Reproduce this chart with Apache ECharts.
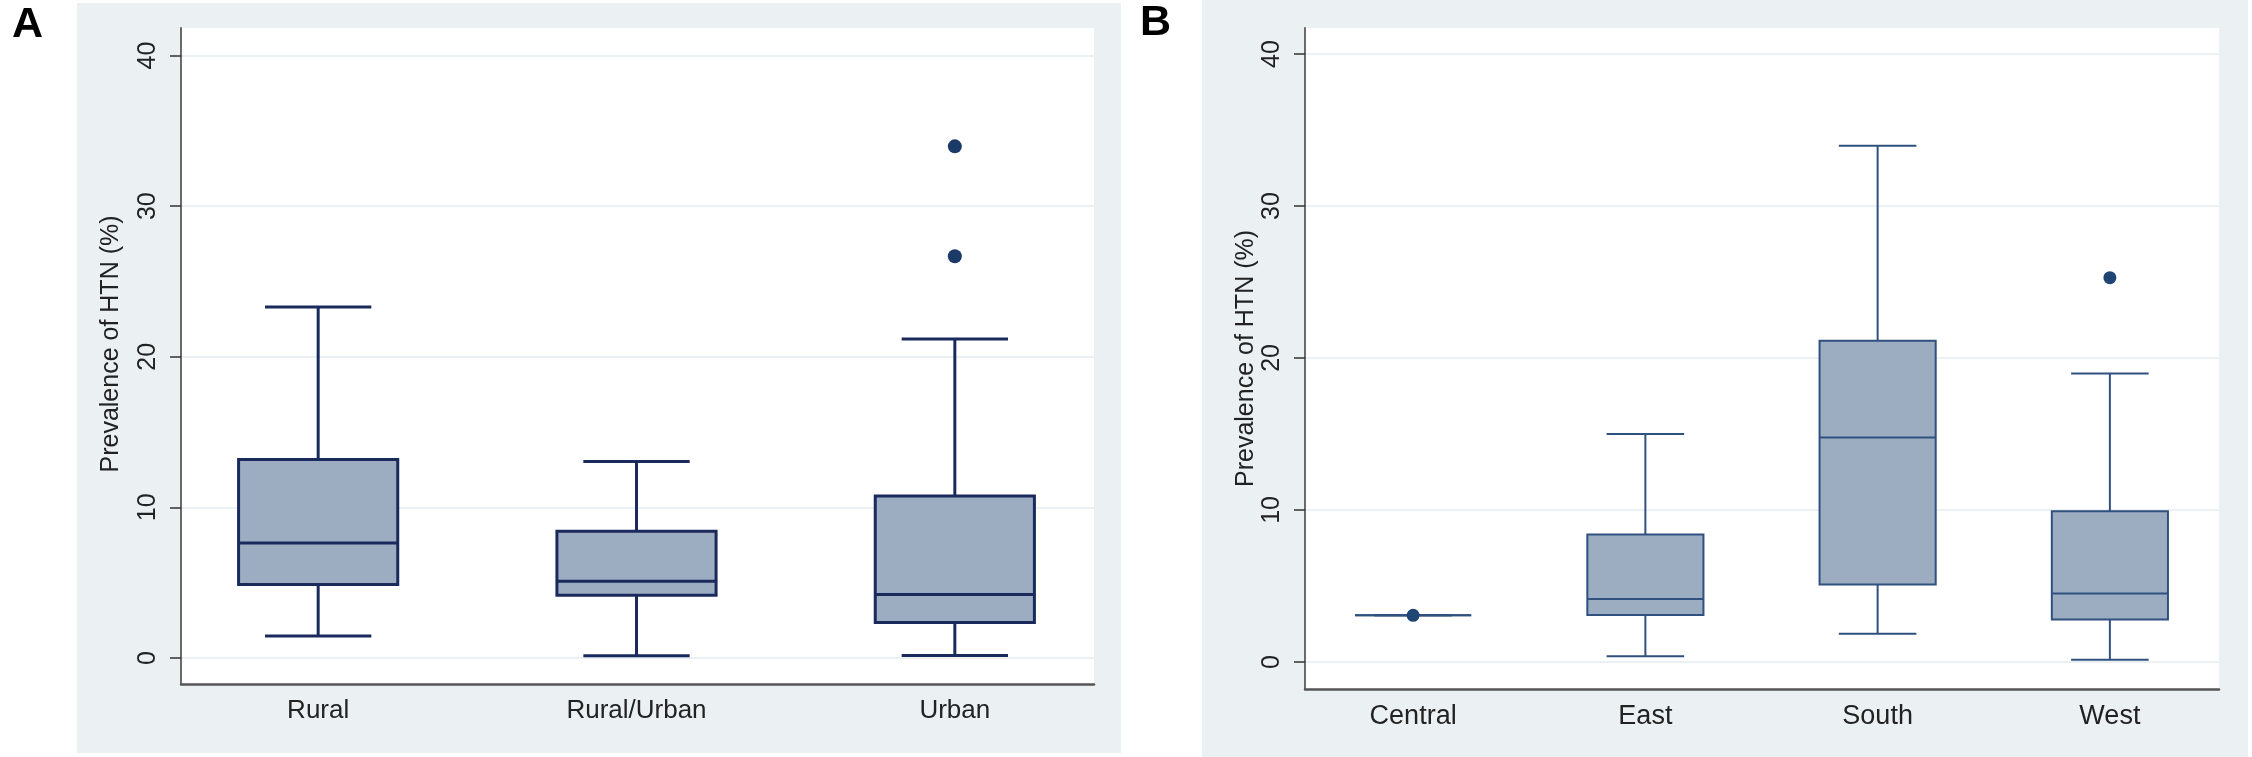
<!DOCTYPE html>
<html>
<head>
<meta charset="utf-8">
<title>Prevalence of HTN</title>
<script src="https://cdn.jsdelivr.net/npm/echarts@6/dist/echarts.min.js"></script>
<style>
  html, body { margin: 0; padding: 0; background: #fff; }
  #chart { width: 2252px; height: 757px; }
</style>
</head>
<body>
<div id="chart"></div>
<script>
// ---- data ----
// box rows are [lower whisker, Q1, median, Q3, upper whisker]
var residenceCats = ['Rural', 'Rural/Urban', 'Urban'];
var residenceBoxes = [
  [1.46, 4.87, 7.64, 13.17, 23.3],
  [0.15, 4.16, 5.09, 8.41, 13.05],
  [0.17, 2.35, 4.21, 10.75, 21.18]
];
var residenceOutliers = [['Urban', 26.67], ['Urban', 33.97]];

var regionCats = ['Central', 'East', 'South', 'West'];
var regionBoxes = [
  [3.07, 3.07, 3.07, 3.07, 3.07],
  [0.37, 3.09, 4.14, 8.38, 15.0],
  [1.86, 5.09, 14.76, 21.14, 33.97],
  [0.15, 2.8, 4.5, 9.92, 18.97]
];
var regionOutliers = [['Central', 3.07], ['West', 25.28]];

var yTicks = [0, 10, 20, 30, 40];
var yTitle = 'Prevalence of HTN (%)';

// axis ranges (Stata pads the 0-40 scale a little)
var rangeA = [-1.73, 41.83];
var rangeB = [-1.78, 41.71];

var FONT = '"Liberation Sans", Arial, sans-serif';

/** 箱线图绘制: 箱宽 = 半个类目宽, 须端 = 三分之一 */
function boxRenderer(lineColor, lineWidth) {
  return function(params, api) {
    var idx = api.value(0);
    var lo = api.coord([idx, api.value(1)]);
    var q1 = api.coord([idx, api.value(2)]);
    var med = api.coord([idx, api.value(3)]);
    var q3 = api.coord([idx, api.value(4)]);
    var hi = api.coord([idx, api.value(5)]);
    var band = api.size([1, 0])[0];
    var cx = med[0];
    var half = band * 0.25;
    var cap = band * 0.167;
    var ls = { stroke: lineColor, lineWidth: lineWidth, fill: null };
    return {
      type: 'group',
      children: [
        { type: 'line', shape: { x1: cx, y1: q3[1], x2: cx, y2: hi[1] }, style: ls },
        { type: 'line', shape: { x1: cx, y1: q1[1], x2: cx, y2: lo[1] }, style: ls },
        { type: 'line', shape: { x1: cx - cap, y1: hi[1], x2: cx + cap, y2: hi[1] }, style: ls },
        { type: 'line', shape: { x1: cx - cap, y1: lo[1], x2: cx + cap, y2: lo[1] }, style: ls },
        {
          type: 'rect',
          shape: { x: cx - half, y: q3[1], width: half * 2, height: q1[1] - q3[1] },
          style: { fill: '#9cadc2', stroke: lineColor, lineWidth: lineWidth }
        },
        { type: 'line', shape: { x1: cx - half, y1: med[1], x2: cx + half, y2: med[1] }, style: ls }
      ]
    };
  };
}

function withIndex(rows) {
  var out = [];
  for (var i = 0; i < rows.length; i++) {
    out.push([i].concat(rows[i]));
  }
  return out;
}

// frame axis = visible y axis with labels, ticks and grid lines
function frameYAxis(gridIndex, range, nameGap, namePad) {
  return {
    gridIndex: gridIndex,
    type: 'value',
    min: range[0],
    max: range[1],
    name: yTitle,
    nameLocation: 'middle',
    nameRotate: 90,
    nameGap: nameGap,
    nameTextStyle: { fontSize: 25, color: '#222', fontFamily: FONT, padding: namePad },
    axisLine: { show: true, lineStyle: { color: '#6a6a6a', width: 2 } },
    axisTick: { show: true, length: 11, customValues: yTicks, lineStyle: { color: '#333', width: 1.5 } },
    axisLabel: { customValues: yTicks, rotate: 90, margin: 20, fontSize: 25, color: '#222', fontFamily: FONT },
    splitLine: { show: true, lineStyle: { color: '#e3ebef', width: 1.5 } }
  };
}

function hiddenYAxis(gridIndex, range) {
  return {
    gridIndex: gridIndex, type: 'value', min: range[0], max: range[1],
    axisLine: { show: false }, axisTick: { show: false },
    axisLabel: { show: false }, splitLine: { show: false }
  };
}

function frameXAxis(gridIndex, cats) {
  return {
    gridIndex: gridIndex, type: 'category', data: cats,
    axisLine: { show: true, onZero: false, lineStyle: { color: '#555', width: 2.5 } },
    axisTick: { show: false }, axisLabel: { show: false }, splitLine: { show: false }
  };
}

function dataXAxis(gridIndex, cats, fontSize) {
  return {
    gridIndex: gridIndex, type: 'category', data: cats,
    axisLine: { show: false, onZero: false }, axisTick: { show: false },
    axisLabel: { margin: 14, fontSize: fontSize, color: '#222', fontFamily: FONT },
    splitLine: { show: false }
  };
}

var chart = echarts.init(document.getElementById('chart'));

var option = {
  animation: false,
  backgroundColor: '#fff',
  graphic: [
    { type: 'rect', z: -1, shape: { x: 77, y: 3, width: 1044, height: 750 }, style: { fill: '#ebf1f3' } },
    { type: 'rect', z: -1, shape: { x: 1202, y: 0, width: 1046, height: 757 }, style: { fill: '#ebf1f3' } },
    { type: 'text', left: 12, top: 4, style: { text: 'A', font: 'bold 43px ' + FONT, fill: '#000' } },
    { type: 'text', left: 1140, top: 2, style: { text: 'B', font: 'bold 43px ' + FONT, fill: '#000' } }
  ],
  grid: [
    // A: frame + data
    { left: 181, top: 28, width: 913, height: 656, show: true, backgroundColor: '#fff', borderWidth: 0 },
    { left: 159, top: 28, width: 955, height: 656 },
    // B: frame + data
    { left: 1305, top: 28, width: 914, height: 661, show: true, backgroundColor: '#fff', borderWidth: 0 },
    { left: 1297, top: 28, width: 929, height: 661 }
  ],
  xAxis: [
    frameXAxis(0, residenceCats),
    dataXAxis(1, residenceCats, 26),
    frameXAxis(2, regionCats),
    dataXAxis(3, regionCats, 27)
  ],
  yAxis: [
    frameYAxis(0, rangeA, 57, [0, 0, 0, 24]),
    hiddenYAxis(1, rangeA),
    frameYAxis(2, rangeB, 45, [0, 0, 0, 0]),
    hiddenYAxis(3, rangeB)
  ],
  series: [
    {
      type: 'custom', xAxisIndex: 1, yAxisIndex: 1,
      renderItem: boxRenderer('#1a2a5c', 3),
      encode: { x: 0, y: [1, 2, 3, 4, 5] },
      data: withIndex(residenceBoxes)
    },
    {
      type: 'scatter', xAxisIndex: 1, yAxisIndex: 1,
      symbolSize: 14, itemStyle: { color: '#1c3a68', opacity: 1 },
      data: residenceOutliers
    },
    {
      type: 'custom', xAxisIndex: 3, yAxisIndex: 3,
      renderItem: boxRenderer('#30507f', 2),
      encode: { x: 0, y: [1, 2, 3, 4, 5] },
      data: withIndex(regionBoxes)
    },
    {
      type: 'scatter', xAxisIndex: 3, yAxisIndex: 3,
      symbolSize: 13, itemStyle: { color: '#1f4574', opacity: 1 },
      data: regionOutliers
    }
  ]
};

chart.setOption(option);
</script>
</body>
</html>
